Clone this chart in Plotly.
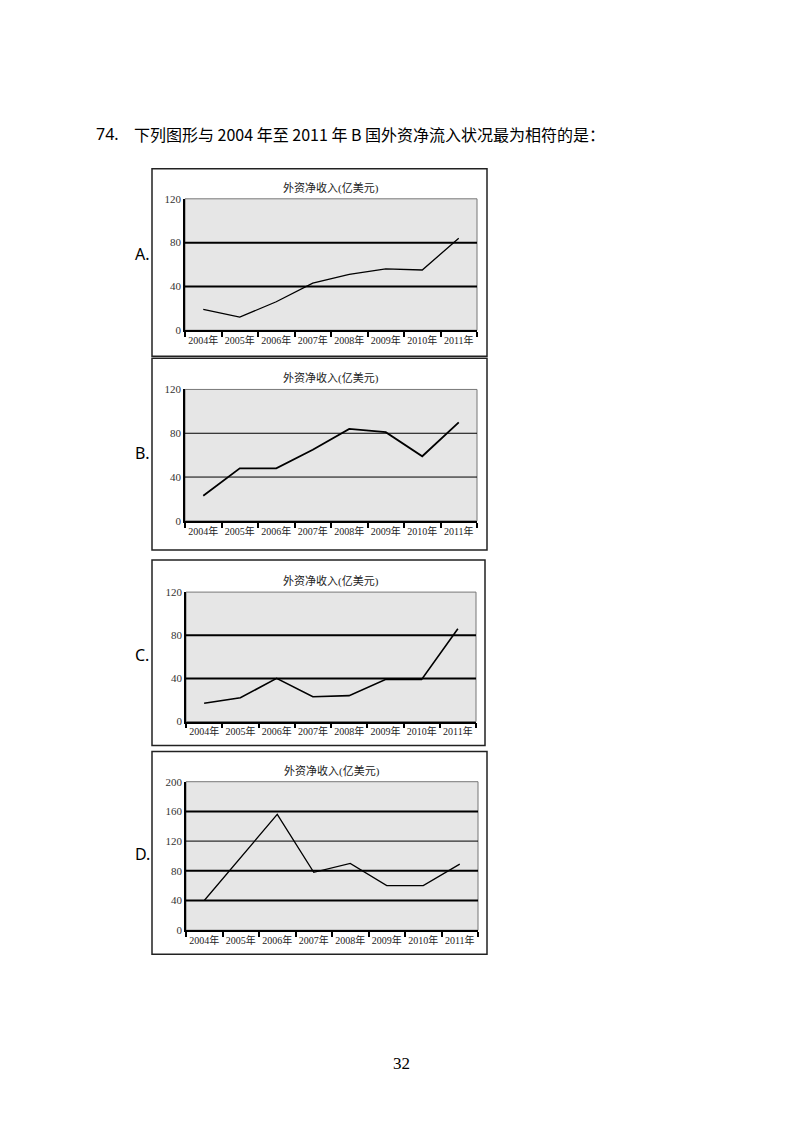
import plotly.graph_objects as go

# 数据
years = ['2004年', '2005年', '2006年', '2007年', '2008年', '2009年', '2010年', '2011年']
values_a = [19, 12, 26, 43, 51, 56, 55, 84]
values_b = [23, 48, 48, 65, 84, 81, 59, 90]
values_c = [17, 22, 40, 23, 24, 39, 39, 86]
values_d = [40, 98, 156, 78, 90, 60, 60, 89]
chart_labels = ['A.', 'B.', 'C.', 'D.']
chart_title = '外资净收入(亿美元)'
heading_no = '74.'
heading = '下列图形与 2004 年至 2011 年 B 国外资净流入状况最为相符的是：'
page_no = '32'

# 截图会把页面纵向压缩一点（约 1124/1140），图的上边还有 16px 留白
PAD_X, PAD_Y = 8, 16
K = 1140 / 1124
W, H = 800 - 2 * PAD_X, 1108


def px(x):
    return (x - PAD_X) / W


def py(y):
    return 1 - (y * K - PAD_Y) / H


# 每个小图：外框、绘图区（像素）、纵轴范围、网格线
panels = [
    dict(vals=values_a, box=(152, 170, 487, 357), area=(185, 200, 477, 331),
         ymax=120, dtick=40, grid={40: 2, 80: 2}, lw=1.3, label_y=255),
    dict(vals=values_b, box=(152, 359, 487, 550), area=(185, 390, 477, 521),
         ymax=120, dtick=40, grid={40: 1, 80: 1}, lw=1.8, label_y=453),
    dict(vals=values_c, box=(152, 560, 485, 745), area=(186, 592, 476, 721),
         ymax=120, dtick=40, grid={40: 2, 80: 2}, lw=1.6, label_y=655),
    dict(vals=values_d, box=(152, 751, 487, 953), area=(186, 781, 478, 929),
         ymax=200, dtick=40, grid={40: 2, 80: 2, 120: 1, 160: 2}, lw=1.3, label_y=853),
]

serif = 'Liberation Serif, Noto Sans CJK SC'
fig = go.Figure()
shapes = []
annotations = []
layout_axes = {}

for i, p in enumerate(panels):
    n = '' if i == 0 else str(i + 1)
    xa, ya = 'x' + n, 'y' + n
    x0, y0, x1, y1 = p['area']
    fig.add_trace(go.Scatter(
        x=years, y=p['vals'], mode='lines', xaxis=xa, yaxis=ya,
        line=dict(color='black', width=p['lw']), showlegend=False,
    ))
    layout_axes['xaxis' + n] = dict(
        domain=[px(x0), px(x1)], anchor=ya, type='category',
        range=[-0.5, 7.5], showgrid=False, showline=True, linecolor='black',
        linewidth=1.5, ticks='outside', tickson='boundaries', ticklen=5,
        tickcolor='black', tickwidth=1.5, tickangle=0,
        tickfont=dict(family=serif, size=10, color='#222'),
    )
    layout_axes['yaxis' + n] = dict(
        domain=[py(y1), py(y0)], anchor=xa, range=[0, p['ymax']],
        dtick=p['dtick'], showgrid=False, zeroline=False, showline=True,
        linecolor='black', linewidth=1.5, ticks='',
        tickfont=dict(family=serif, size=11, color='#333'),
    )
    # 绘图区灰底与细边框
    shapes.append(dict(type='rect', xref='paper', yref='paper',
                       x0=px(x0), x1=px(x1), y0=py(y1), y1=py(y0),
                       fillcolor='#e6e6e6', line=dict(color='#777', width=1),
                       layer='below'))
    # 网格线
    for level, w in p['grid'].items():
        shapes.append(dict(type='line', xref=xa + ' domain', yref=ya,
                           x0=0, x1=1, y0=level, y1=level,
                           line=dict(color='black', width=w), layer='below'))
    # 外框
    bx0, by0, bx1, by1 = p['box']
    shapes.append(dict(type='rect', xref='paper', yref='paper',
                       x0=px(bx0), x1=px(bx1), y0=py(by1), y1=py(by0),
                       line=dict(color='#222', width=1.5)))
    annotations.append(dict(text=chart_title, xref='paper', yref='paper',
                            x=px((x0 + x1) / 2), y=py(y0 - 11),
                            xanchor='center', yanchor='middle', showarrow=False,
                            font=dict(family=serif, size=11, color='#222')))
    annotations.append(dict(text=chart_labels[i], xref='paper', yref='paper',
                            x=px(133), y=py(p['label_y']),
                            xanchor='left', yanchor='middle', showarrow=False,
                            font=dict(family='Noto Sans', size=16, color='black')))

annotations.append(dict(text=heading_no, xref='paper', yref='paper', x=px(94), y=py(135),
                        xanchor='left', yanchor='middle', showarrow=False,
                        font=dict(family='Noto Sans', size=16, color='black')))
annotations.append(dict(text=heading, xref='paper', yref='paper', x=px(132), y=py(135),
                        xanchor='left', yanchor='middle', showarrow=False,
                        font=dict(family='Noto Sans CJK SC', size=16, color='black')))
annotations.append(dict(text=page_no, xref='paper', yref='paper', x=px(401), y=py(1062),
                        xanchor='center', yanchor='middle', showarrow=False,
                        font=dict(family='Liberation Serif', size=17, color='black')))

fig.update_layout(
    width=W, height=H, margin=dict(l=0, r=0, t=0, b=0),
    paper_bgcolor='white', plot_bgcolor='rgba(0,0,0,0)',
    shapes=shapes, annotations=annotations, **layout_axes,
)

fig.write_html('out.html')
